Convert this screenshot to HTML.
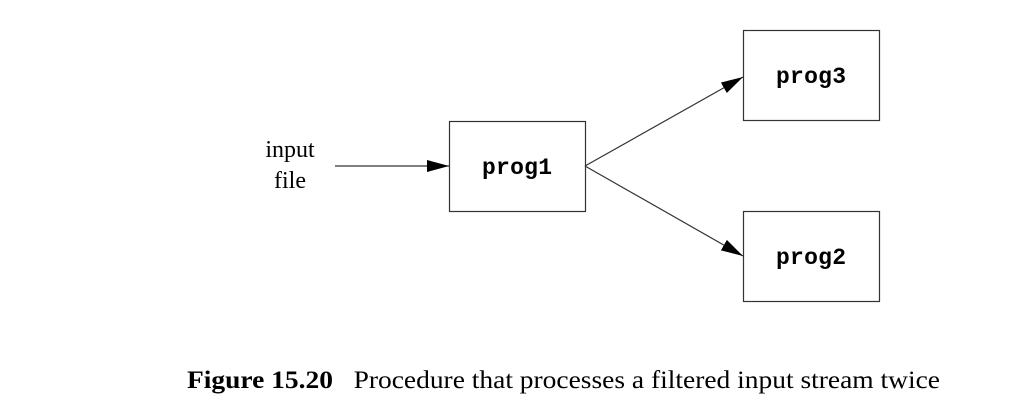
<!DOCTYPE html>
<html><head><style>
body{margin:0;background:#fff;width:1010px;height:400px;overflow:hidden}
</style></head><body>
<svg width="1010" height="400" xmlns="http://www.w3.org/2000/svg">
<defs><marker id="a" markerWidth="22" markerHeight="12" refX="22" refY="6" orient="auto" markerUnits="userSpaceOnUse"><path d="M0,0 L22,6 L0,12 z" fill="#000"/></marker></defs>
<g fill="none" stroke="#333" stroke-width="1.2">
<rect x="449.5" y="121.5" width="136" height="90"/>
<rect x="743.5" y="30.5" width="136" height="90"/>
<rect x="743.5" y="211.5" width="136" height="90"/>
<line x1="335" y1="166" x2="449" y2="166" marker-end="url(#a)"/>
<line x1="585" y1="166" x2="743" y2="77" marker-end="url(#a)"/>
<line x1="585" y1="166" x2="743" y2="256" marker-end="url(#a)"/>
</g>
<g font-family="Liberation Mono, monospace" font-weight="bold" font-size="23" text-anchor="middle">
<text x="517" y="174" textLength="70">prog1</text>
<text x="811" y="83" textLength="70">prog3</text>
<text x="811" y="264" textLength="70">prog2</text>
</g>
<g font-family="Liberation Serif, serif" font-size="24" text-anchor="middle">
<text x="290" y="157">input</text>
<text x="290" y="188">file</text>
</g>
<text x="187" y="388" font-family="Liberation Serif, serif" font-size="25" xml:space="preserve" textLength="753" lengthAdjust="spacingAndGlyphs"><tspan font-weight="bold">Figure 15.20</tspan>   Procedure that processes a filtered input stream twice</text>
</svg>
</body></html>
